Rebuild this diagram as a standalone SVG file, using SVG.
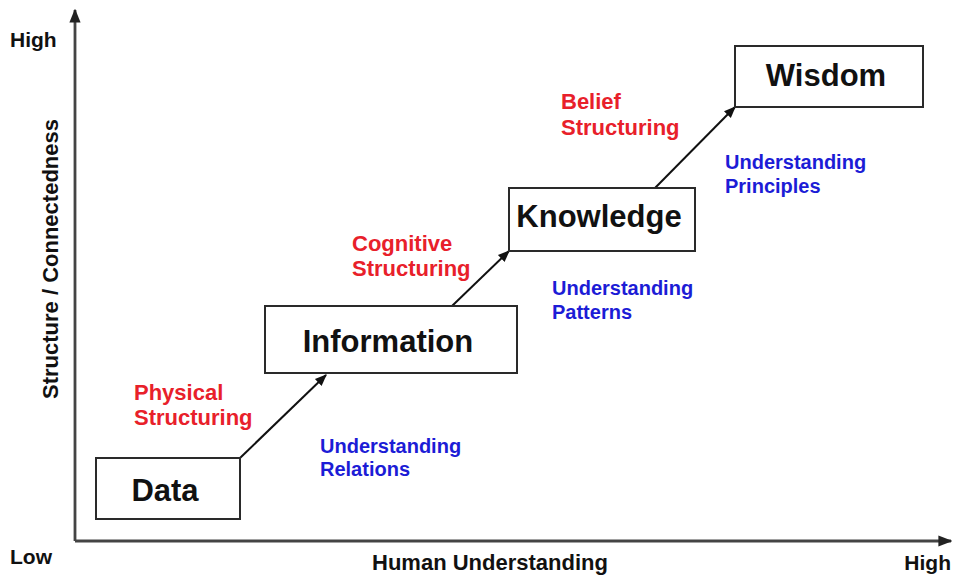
<svg xmlns="http://www.w3.org/2000/svg" width="955" height="576" viewBox="0 0 955 576">
<style>
.box{fill:#fff;stroke:#2a2a2a;stroke-width:2}
.bt{font-family:"Liberation Sans",Arial,sans-serif;font-weight:bold;font-size:31px;fill:#111;text-anchor:middle}
.red{font-family:"Liberation Sans",Arial,sans-serif;font-weight:bold;font-size:22px;fill:#e8202a}
.blue{font-family:"Liberation Sans",Arial,sans-serif;font-weight:bold;font-size:20px;fill:#1c1cd6}
.ax{font-family:"Liberation Sans",Arial,sans-serif;font-weight:bold;font-size:21px;fill:#111}
.axis{stroke:#444;stroke-width:2.8;fill:none}
.conn{stroke:#111;stroke-width:2;fill:none}
</style>
<defs>
<marker id="ah" viewBox="0 0 10 10" refX="9" refY="5" markerWidth="6" markerHeight="6" orient="auto" markerUnits="strokeWidth">
<path d="M0,1 L10,5 L0,9 z" fill="#111"/>
</marker>
<marker id="axh" viewBox="0 0 10 10" refX="9" refY="5" markerWidth="5" markerHeight="5" orient="auto" markerUnits="strokeWidth">
<path d="M0,1 L10,5 L0,9 z" fill="#222"/>
</marker>
</defs>
<g id="axes">
<path class="axis" d="M75,541 L75,10" marker-end="url(#axh)"/>
<path class="axis" d="M75,541 L951,541" marker-end="url(#axh)"/>
<text class="ax" x="10" y="47">High</text>
<text class="ax" x="10" y="564">Low</text>
<text class="ax" x="490" y="570" text-anchor="middle" style="font-size:22px">Human Understanding</text>
<text class="ax" x="951" y="570" text-anchor="end">High</text>
<text class="ax" transform="translate(58,259) rotate(-90)" text-anchor="middle" style="font-size:22px">Structure / Connectedness</text>
</g>
<g id="connectors">
<path class="conn" d="M240,458 L326,375" marker-end="url(#ah)"/>
<path class="conn" d="M452,306 L509,251" marker-end="url(#ah)"/>
<path class="conn" d="M655,188 L735,107" marker-end="url(#ah)"/>
</g>
<g id="data">
<rect class="box" x="96" y="458" width="144" height="61"/>
<text class="bt" x="165" y="501">Data</text>
</g>
<g id="information">
<rect class="box" x="265" y="306" width="252" height="67"/>
<text class="bt" x="388" y="352">Information</text>
</g>
<g id="knowledge">
<rect class="box" x="509" y="188" width="186" height="63"/>
<text class="bt" x="599" y="227">Knowledge</text>
</g>
<g id="wisdom">
<rect class="box" x="735" y="46" width="188" height="61"/>
<text class="bt" x="826" y="86">Wisdom</text>
</g>
<g id="labels">
<text class="red" x="134" y="400">Physical</text>
<text class="red" x="134" y="425">Structuring</text>
<text class="red" x="352" y="251">Cognitive</text>
<text class="red" x="352" y="276">Structuring</text>
<text class="red" x="561" y="109">Belief</text>
<text class="red" x="561" y="135">Structuring</text>
<text class="blue" x="320" y="453">Understanding</text>
<text class="blue" x="320" y="476">Relations</text>
<text class="blue" x="552" y="295">Understanding</text>
<text class="blue" x="552" y="319">Patterns</text>
<text class="blue" x="725" y="169">Understanding</text>
<text class="blue" x="725" y="193">Principles</text>
</g>
</svg>
